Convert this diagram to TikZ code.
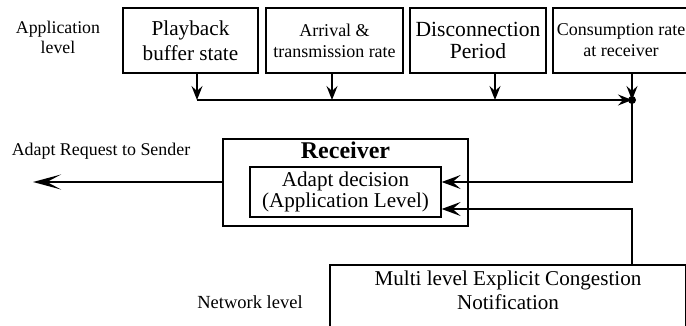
\documentclass[tikz,border=0pt]{standalone}
\usepackage{fontspec}
\setmainfont{Liberation Serif}
\usetikzlibrary{arrows.meta,calc}

\begin{document}
\begin{tikzpicture}[x=1pt,y=-1pt,
  box/.style={draw,line width=1.5pt,inner sep=0pt,align=center},
  wire/.style={line width=1.6pt},
  downtip/.style={-{Stealth[length=14pt,width=11pt,inset=5pt]}},
  intip/.style={-{Stealth[length=19pt,width=14pt,inset=8pt]}},
  outtip/.style={-{Stealth[length=28pt,width=15pt,inset=14pt]}}]
\useasboundingbox (0,0) rectangle (686,326);
\clip (0,0) rectangle (686,326);
% application level inputs
\node[box,minimum width=135,minimum height=65,font=\fontsize{21.2}{25}\selectfont] (play) at (190.5,40.5) {Playback\\buffer state};
\node[box,minimum width=137,minimum height=65,font=\fontsize{18}{21}\selectfont] (arrive) at (334.5,40.5) {Arrival \&\\transmission rate};
\node[box,minimum width=136,minimum height=65,font=\fontsize{21.6}{22}\selectfont] (disc) at (478,40.5) {Disconnection\\Period};
\node[box,minimum width=136,minimum height=65,font=\fontsize{18}{21}\selectfont] (cons) at (621,40.5) {Consumption rate\\at receiver};
\node[align=center,font=\fontsize{17.8}{20}\selectfont] (applvl) at (58,37) {Application\\level};
% bus
\coordinate (j) at (632,100);
\foreach \b/\s in {play/6.5,arrive/-2.5,disc/17} {
  \draw[wire,downtip] ([xshift=\s pt]\b.south) -- ([xshift=\s pt]\b.south |- j);
}
\draw[wire,downtip] ([xshift=6.5pt]play.south |- j) -- (j);
\draw[wire,downtip] (cons.south -| j) -- (j);
\fill (j) circle (4);
% receiver
\node[box,minimum width=245,minimum height=87] (recv) at (345.5,182.5) {};
\node[font=\bfseries\fontsize{24}{26}\selectfont,below=0pt] (rname) at (recv.north) {Receiver};
\node[box,line width=1.3pt,minimum width=191,minimum height=50,font=\fontsize{21.1}{21}\selectfont] (adapt) at (345.5,192) {Adapt decision\\(Application Level)};
\draw[wire,intip] (j) |- ([yshift=10pt]adapt.east);
\coordinate (sender) at (33,182);
\draw[wire,outtip] (recv.west |- sender) -- (sender);
\node[font=\fontsize{17.9}{19}\selectfont] (req) at (101,151) {Adapt Request to Sender};
% network level
\node[box,anchor=north,minimum width=356,inner ysep=6pt,text depth=50pt,font=\fontsize{21.1}{24}\selectfont] (mecn) at (508,264) {Multi level Explicit Congestion\\Notification};
\draw[wire,intip] (j |- mecn.north) |- ([yshift=-17pt]adapt.east);
\node[font=\fontsize{18.5}{21}\selectfont] (netlvl) at (250,302) {Network level};
\end{tikzpicture}
\end{document}
